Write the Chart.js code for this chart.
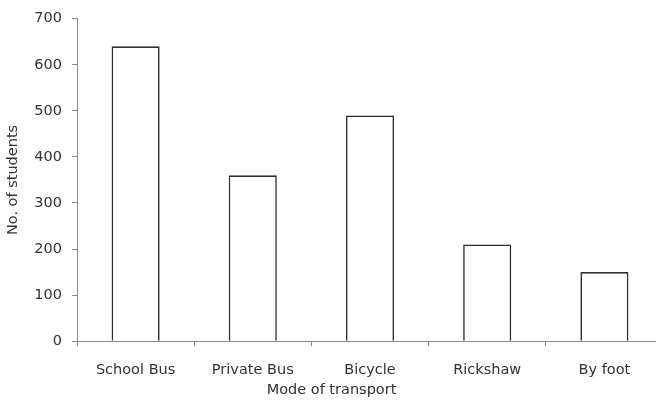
<!DOCTYPE html>
<html>
<head>
<meta charset="utf-8">
<script src="https://cdn.jsdelivr.net/npm/chart.js@4"></script>
<style>
  html, body { margin: 0; padding: 0; background: #fff; overflow: hidden; }
</style>
</head>
<body>
<canvas id="transport" width="663" height="401"></canvas>
<script>
const modes = ['School Bus', 'Private Bus', 'Bicycle', 'Rickshaw', 'By foot'];
const students = [640, 360, 490, 210, 150];
const yTicks = [0, 100, 200, 300, 400, 500, 600, 700];

const textColor = '#333333';
const axisColor = '#8c8c8c';
const font = { family: 'DejaVu Sans', size: 14.5, weight: 'normal' };

new Chart(document.getElementById('transport'), {
  type: 'bar',
  data: {
    labels: modes,
    datasets: [{
      data: students,
      backgroundColor: '#ffffff',
      borderColor: '#2b2b2b',
      borderWidth: 1.6,
      categoryPercentage: 1,
      barPercentage: 0.41
    }]
  },
  options: {
    responsive: false,
    animation: false,
    layout: { padding: 0 },
    plugins: {
      legend: { display: false },
      tooltip: { enabled: false },
      title: {
        display: true,
        position: 'bottom',
        text: 'Mode of transport',
        color: textColor,
        font: font,
        padding: { top: 1, bottom: 2 }
      }
    },
    scales: {
      x: {
        afterFit: s => { s.height = 39.4; },
        grid: { drawOnChartArea: false, drawTicks: true, tickLength: 5, color: axisColor },
        border: { color: axisColor, width: 1 },
        ticks: { color: textColor, font: font, padding: 15, maxRotation: 0 }
      },
      y: {
        min: 0,
        max: 700,
        afterFit: s => { s.width = 77; },
        afterBuildTicks: s => { s.ticks = yTicks.map(v => ({ value: v })); },
        grid: { drawOnChartArea: false, drawTicks: true, tickLength: 5, color: axisColor },
        border: { color: axisColor, width: 1 },
        ticks: { color: textColor, font: font, padding: 10 },
        title: {
          display: true,
          text: 'No. of students',
          color: textColor,
          font: font,
          padding: { top: 5, bottom: 0 }
        }
      }
    }
  }
});
</script>
</body>
</html>
